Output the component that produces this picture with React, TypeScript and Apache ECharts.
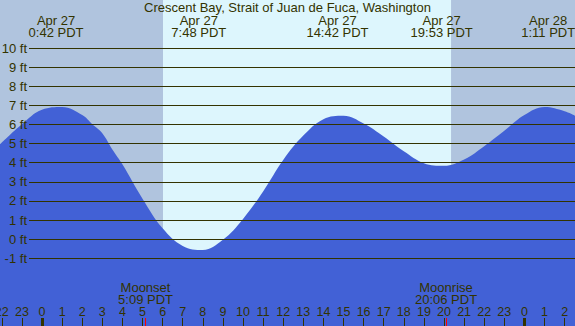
import React, { useEffect, useRef } from "react";
import * as echarts from "echarts";

// Time is in hours from Apr 27 00:00 PDT
const TITLE = "Crescent Bay, Strait of Juan de Fuca, Washington";

const tideHours = [-2.09, -1, 0, 1, 2, 2.5, 3, 3.5, 4, 5, 6, 7, 8, 9, 10, 11, 12, 13, 14, 15, 16, 17, 18, 19, 20, 21, 22, 23, 24, 25, 26, 26.52];
const tideFeet = [4.97, 6.02, 6.78, 6.92, 6.5, 6.02, 5.55, 4.7, 3.92, 2.12, 0.57, -0.35, -0.56, -0.03, 1.06, 2.5, 4.15, 5.42, 6.28, 6.46, 6.05, 5.37, 4.6, 3.98, 3.84, 4.17, 4.87, 5.68, 6.5, 6.92, 6.7, 6.46];

const extremeHours = [0.7, 7.8, 14.7, 19.883, 25.183];
const extremeDates = ["Apr 27", "Apr 27", "Apr 27", "Apr 27", "Apr 28"];
const extremeTimes = ["0:42 PDT", "7:48 PDT", "14:42 PDT", "19:53 PDT", "1:11 PDT"];

const moonHours = [5.15, 20.1];
const moonNames = ["Moonset", "Moonrise"];
const moonTimes = ["5:09 PDT", "20:06 PDT"];

const sunriseHour = 6.02;
const sunsetHour = 20.35;

const hourTicks = [-2, -1, 0, 1, 2, 3, 4, 5, 6, 7, 8, 9, 10, 11, 12, 13, 14, 15, 16, 17, 18, 19, 20, 21, 22, 23, 24, 25, 26];
const midnightTicks = [0, 24];

const X_MIN = -2.0896;
const X_MAX = 26.517;
const Y_MIN = -4.542;
const Y_MAX = 12.517;
const FEET_MIN = -1;
const FEET_MAX = 10;

const TEXT = "#333300";
const FONT = "Liberation Sans";

function nearestIndex(arr: number[], v: number) {
  let best = 0;
  for (let i = 1; i < arr.length; i++) {
    if (Math.abs(arr[i] - v) < Math.abs(arr[best] - v)) best = i;
  }
  return best;
}

export default function App() {
  const ref = useRef<HTMLDivElement>(null);
  useEffect(() => {
    if (!ref.current) return;
    const chart = echarts.init(ref.current, undefined, { renderer: "svg" });
    const baseX = { type: "value", gridIndex: 0, min: X_MIN, max: X_MAX, z: 10 };
    const noLine = { show: false, onZero: false };
    chart.setOption({
      animation: false,
      backgroundColor: "#ddf6fd",
      title: {
        text: TITLE,
        left: "center",
        top: 0,
        padding: 0,
        textStyle: { fontFamily: FONT, fontSize: 13, fontWeight: "normal", color: TEXT, lineHeight: 14 },
      },
      grid: [
        { left: 0, right: 0, top: 0, bottom: 0, outerBoundsMode: "none", containLabel: false },
        { left: 29, right: 0, top: 48, bottom: 67.7, outerBoundsMode: "none", containLabel: false },
      ],
      xAxis: [
        {
          ...baseX,
          position: "bottom",
          axisLine: noLine,
          splitLine: { show: false },
          axisTick: { show: true, inside: true, length: 8, customValues: hourTicks, lineStyle: { color: TEXT, width: 1 } },
          axisLabel: {
            show: true,
            inside: true,
            margin: 8,
            customValues: hourTicks,
            formatter: (v: number) => String(((Math.round(v) % 24) + 24) % 24),
            fontFamily: FONT,
            fontSize: 12.5,
            lineHeight: 12,
            color: TEXT,
          },
        },
        {
          ...baseX,
          position: "bottom",
          axisLine: noLine,
          splitLine: { show: false },
          axisTick: { show: true, inside: true, length: 8, customValues: midnightTicks, lineStyle: { color: TEXT, width: 3 } },
          axisLabel: { show: false },
        },
        {
          ...baseX,
          position: "bottom",
          axisLine: noLine,
          splitLine: { show: false },
          axisTick: { show: true, inside: true, length: 8, customValues: moonHours, lineStyle: { color: "#ff0000", width: 1 } },
          axisLabel: {
            show: true,
            inside: true,
            margin: 21,
            customValues: moonHours,
            formatter: (v: number) => {
              const i = nearestIndex(moonHours, v);
              return moonNames[i] + "\n" + moonTimes[i];
            },
            fontFamily: FONT,
            fontSize: 13,
            lineHeight: 12,
            color: TEXT,
          },
        },
        {
          ...baseX,
          position: "top",
          axisLine: noLine,
          splitLine: { show: false },
          axisTick: { show: false },
          axisLabel: {
            show: true,
            inside: true,
            margin: 14,
            customValues: extremeHours,
            formatter: (v: number) => {
              const i = nearestIndex(extremeHours, v);
              return extremeDates[i] + "\n" + extremeTimes[i];
            },
            fontFamily: FONT,
            fontSize: 13,
            lineHeight: 12,
            color: TEXT,
          },
        },
        { type: "value", gridIndex: 1, min: 0, max: 1, show: false },
      ],
      yAxis: [
        { type: "value", gridIndex: 0, min: Y_MIN, max: Y_MAX, show: false },
        {
          type: "value",
          gridIndex: 1,
          min: FEET_MIN,
          max: FEET_MAX,
          interval: 1,
          z: 10,
          axisLine: { show: false },
          axisTick: { show: false },
          splitLine: { show: true, lineStyle: { color: TEXT, width: 1 } },
          axisLabel: {
            show: true,
            margin: 2,
            formatter: "{value} ft",
            fontFamily: FONT,
            fontSize: 13,
            color: TEXT,
          },
        },
      ],
      series: [
        {
          type: "line",
          xAxisIndex: 0,
          yAxisIndex: 0,
          data: [],
          z: 1,
          silent: true,
          markArea: {
            silent: true,
            z: 1,
            itemStyle: { color: "#b0c4de" },
            data: [
              [{ xAxis: X_MIN }, { xAxis: sunriseHour }],
              [{ xAxis: sunsetHour }, { xAxis: X_MAX }],
            ],
          },
        },
        {
          type: "line",
          xAxisIndex: 0,
          yAxisIndex: 0,
          z: 3,
          smooth: 0.4,
          symbol: "none",
          silent: true,
          lineStyle: { width: 0 },
          areaStyle: { color: "#4261d6", opacity: 1, origin: "start" },
          data: tideHours.map((h, i) => [h, tideFeet[i]]),
        },
      ],
    });
    return () => chart.dispose();
  }, []);
  return <div ref={ref} style={{ position: "fixed", left: 0, top: 0, width: 575, height: 326 }} />;
}
